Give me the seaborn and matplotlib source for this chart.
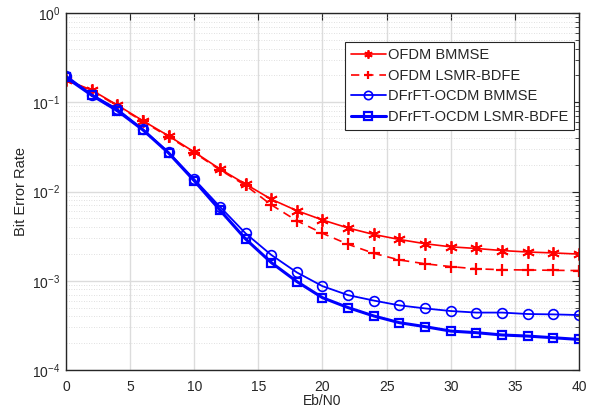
import numpy as np
import pandas as pd
import matplotlib
matplotlib.use("Agg")
import matplotlib.pyplot as plt
import seaborn as sns
from matplotlib.ticker import LogLocator, MultipleLocator, NullFormatter

# data
ebn0 = list(range(0, 41, 2))
ofdm_bmmse = [0.178, 0.137, 0.093, 0.062, 0.042, 0.0277, 0.0179, 0.0121, 0.0082, 0.0061,
              0.0048, 0.0039, 0.0033, 0.0029, 0.0026, 0.0024, 0.0023, 0.00218, 0.0021, 0.00205, 0.00199]
ofdm_lsmr = [0.176, 0.135, 0.091, 0.061, 0.041, 0.0272, 0.0175, 0.0117, 0.0071, 0.0047,
             0.0034, 0.00256, 0.00203, 0.00171, 0.00155, 0.00144, 0.00136, 0.00133, 0.00132, 0.00131, 0.0013]
ocdm_bmmse = [0.199, 0.122, 0.084, 0.0497, 0.0275, 0.0137, 0.00676, 0.0034, 0.00195, 0.00124,
              0.00087, 0.00069, 0.0006, 0.00053, 0.00049, 0.000458, 0.00044, 0.00044, 0.000424, 0.00042, 0.000413]
ocdm_lsmr = [0.19, 0.12, 0.0805, 0.049, 0.027, 0.0132, 0.0062, 0.00294, 0.0016, 0.00098,
             0.000646, 0.0005, 0.000403, 0.000339, 0.000306, 0.000273, 0.000262, 0.000247, 0.00024, 0.00023, 0.00022]

labels = ["OFDM BMMSE", "OFDM LSMR-BDFE", "DFrFT-OCDM BMMSE", "DFrFT-OCDM LSMR-BDFE"]

sns.set_style("whitegrid")
plt.rcParams['font.family'] = ['Liberation Sans', 'DejaVu Sans']
plt.rcParams['mathtext.fontset'] = 'custom'
plt.rcParams['mathtext.rm'] = 'Liberation Sans'
plt.rcParams['mathtext.it'] = 'Liberation Sans'
plt.rcParams['mathtext.default'] = 'regular'

fig = plt.figure(figsize=(5.96, 4.18), dpi=100)
ax = fig.add_axes([0.1107, 0.1148, 0.8608, 0.8541])

styles = [
    dict(color='#ff0000', linestyle='-', marker=(6, 2, 0), markersize=9, lw=1.2, mfc='none', mew=1.3),
    dict(color='#ff0000', linestyle='--', marker='+', markersize=9, lw=1.2, mfc='none', mew=1.6),
    dict(color='#0000ff', linestyle='-', marker='o', markersize=7, lw=1.3, mfc='none', mew=1.2),
    dict(color='#0000ff', linestyle='-', marker='s', markersize=6, lw=2.2, mfc='none', mew=1.6),
]

for vals, lab, st in zip([ofdm_bmmse, ofdm_lsmr, ocdm_bmmse, ocdm_lsmr], labels, styles):
    df = pd.DataFrame({"Eb/N0": ebn0, "BER": vals})
    sns.lineplot(data=df, x="Eb/N0", y="BER", ax=ax, label=lab,
                 color=st['color'], linestyle=st['linestyle'], marker=st['marker'],
                 markersize=st['markersize'], linewidth=st['lw'],
                 markerfacecolor=st['mfc'], markeredgecolor=st['color'],
                 markeredgewidth=st['mew'])

for ln, st in zip(ax.get_lines(), styles):
    if st['linestyle'] == '--':
        ln.set_dashes((5, 3.5))

ax.set_yscale('log')
ax.set_xlim(0, 40)
ax.set_ylim(1e-4, 1)
ax.xaxis.set_major_locator(MultipleLocator(5))
ax.yaxis.set_major_locator(LogLocator(base=10, numticks=10))
ax.yaxis.set_minor_locator(LogLocator(base=10, subs=np.arange(2, 10), numticks=50))
ax.yaxis.set_minor_formatter(NullFormatter())

ax.grid(True, which='major', color='#dcdcdc', linewidth=1.0, linestyle='-')
ax.grid(True, which='minor', axis='y', color='#d6d6d6', linewidth=0.6, linestyle=(0, (1, 2)))
ax.set_axisbelow(True)

for sp in ax.spines.values():
    sp.set_color('#262626')
    sp.set_linewidth(1.0)

ax.tick_params(which='both', direction='in', top=True, right=True, colors='#262626',
               labelsize=10, labelcolor='#262626')
ax.tick_params(which='major', length=5, width=0.8)
ax.tick_params(which='minor', length=3, width=0.6)
ax.tick_params(axis='x', pad=7)
ax.tick_params(axis='y', pad=4)

ax.set_xlabel('Eb/N0', fontsize=10, color='#262626', labelpad=0)
ax.set_ylabel('Bit Error Rate', fontsize=10.5, color='#262626', labelpad=3)

leg = ax.legend(loc='upper right', bbox_to_anchor=(0.99, 0.918), borderaxespad=0,
                fontsize=10.5, frameon=True, fancybox=False, framealpha=1,
                edgecolor='#262626', handlelength=2.4, handletextpad=0.15,
                labelspacing=0.45, borderpad=0.4)
leg.get_frame().set_linewidth(0.8)
for ln in leg.get_lines():
    ln.set_markersize(6)

fig.savefig('out.png', dpi=100)
